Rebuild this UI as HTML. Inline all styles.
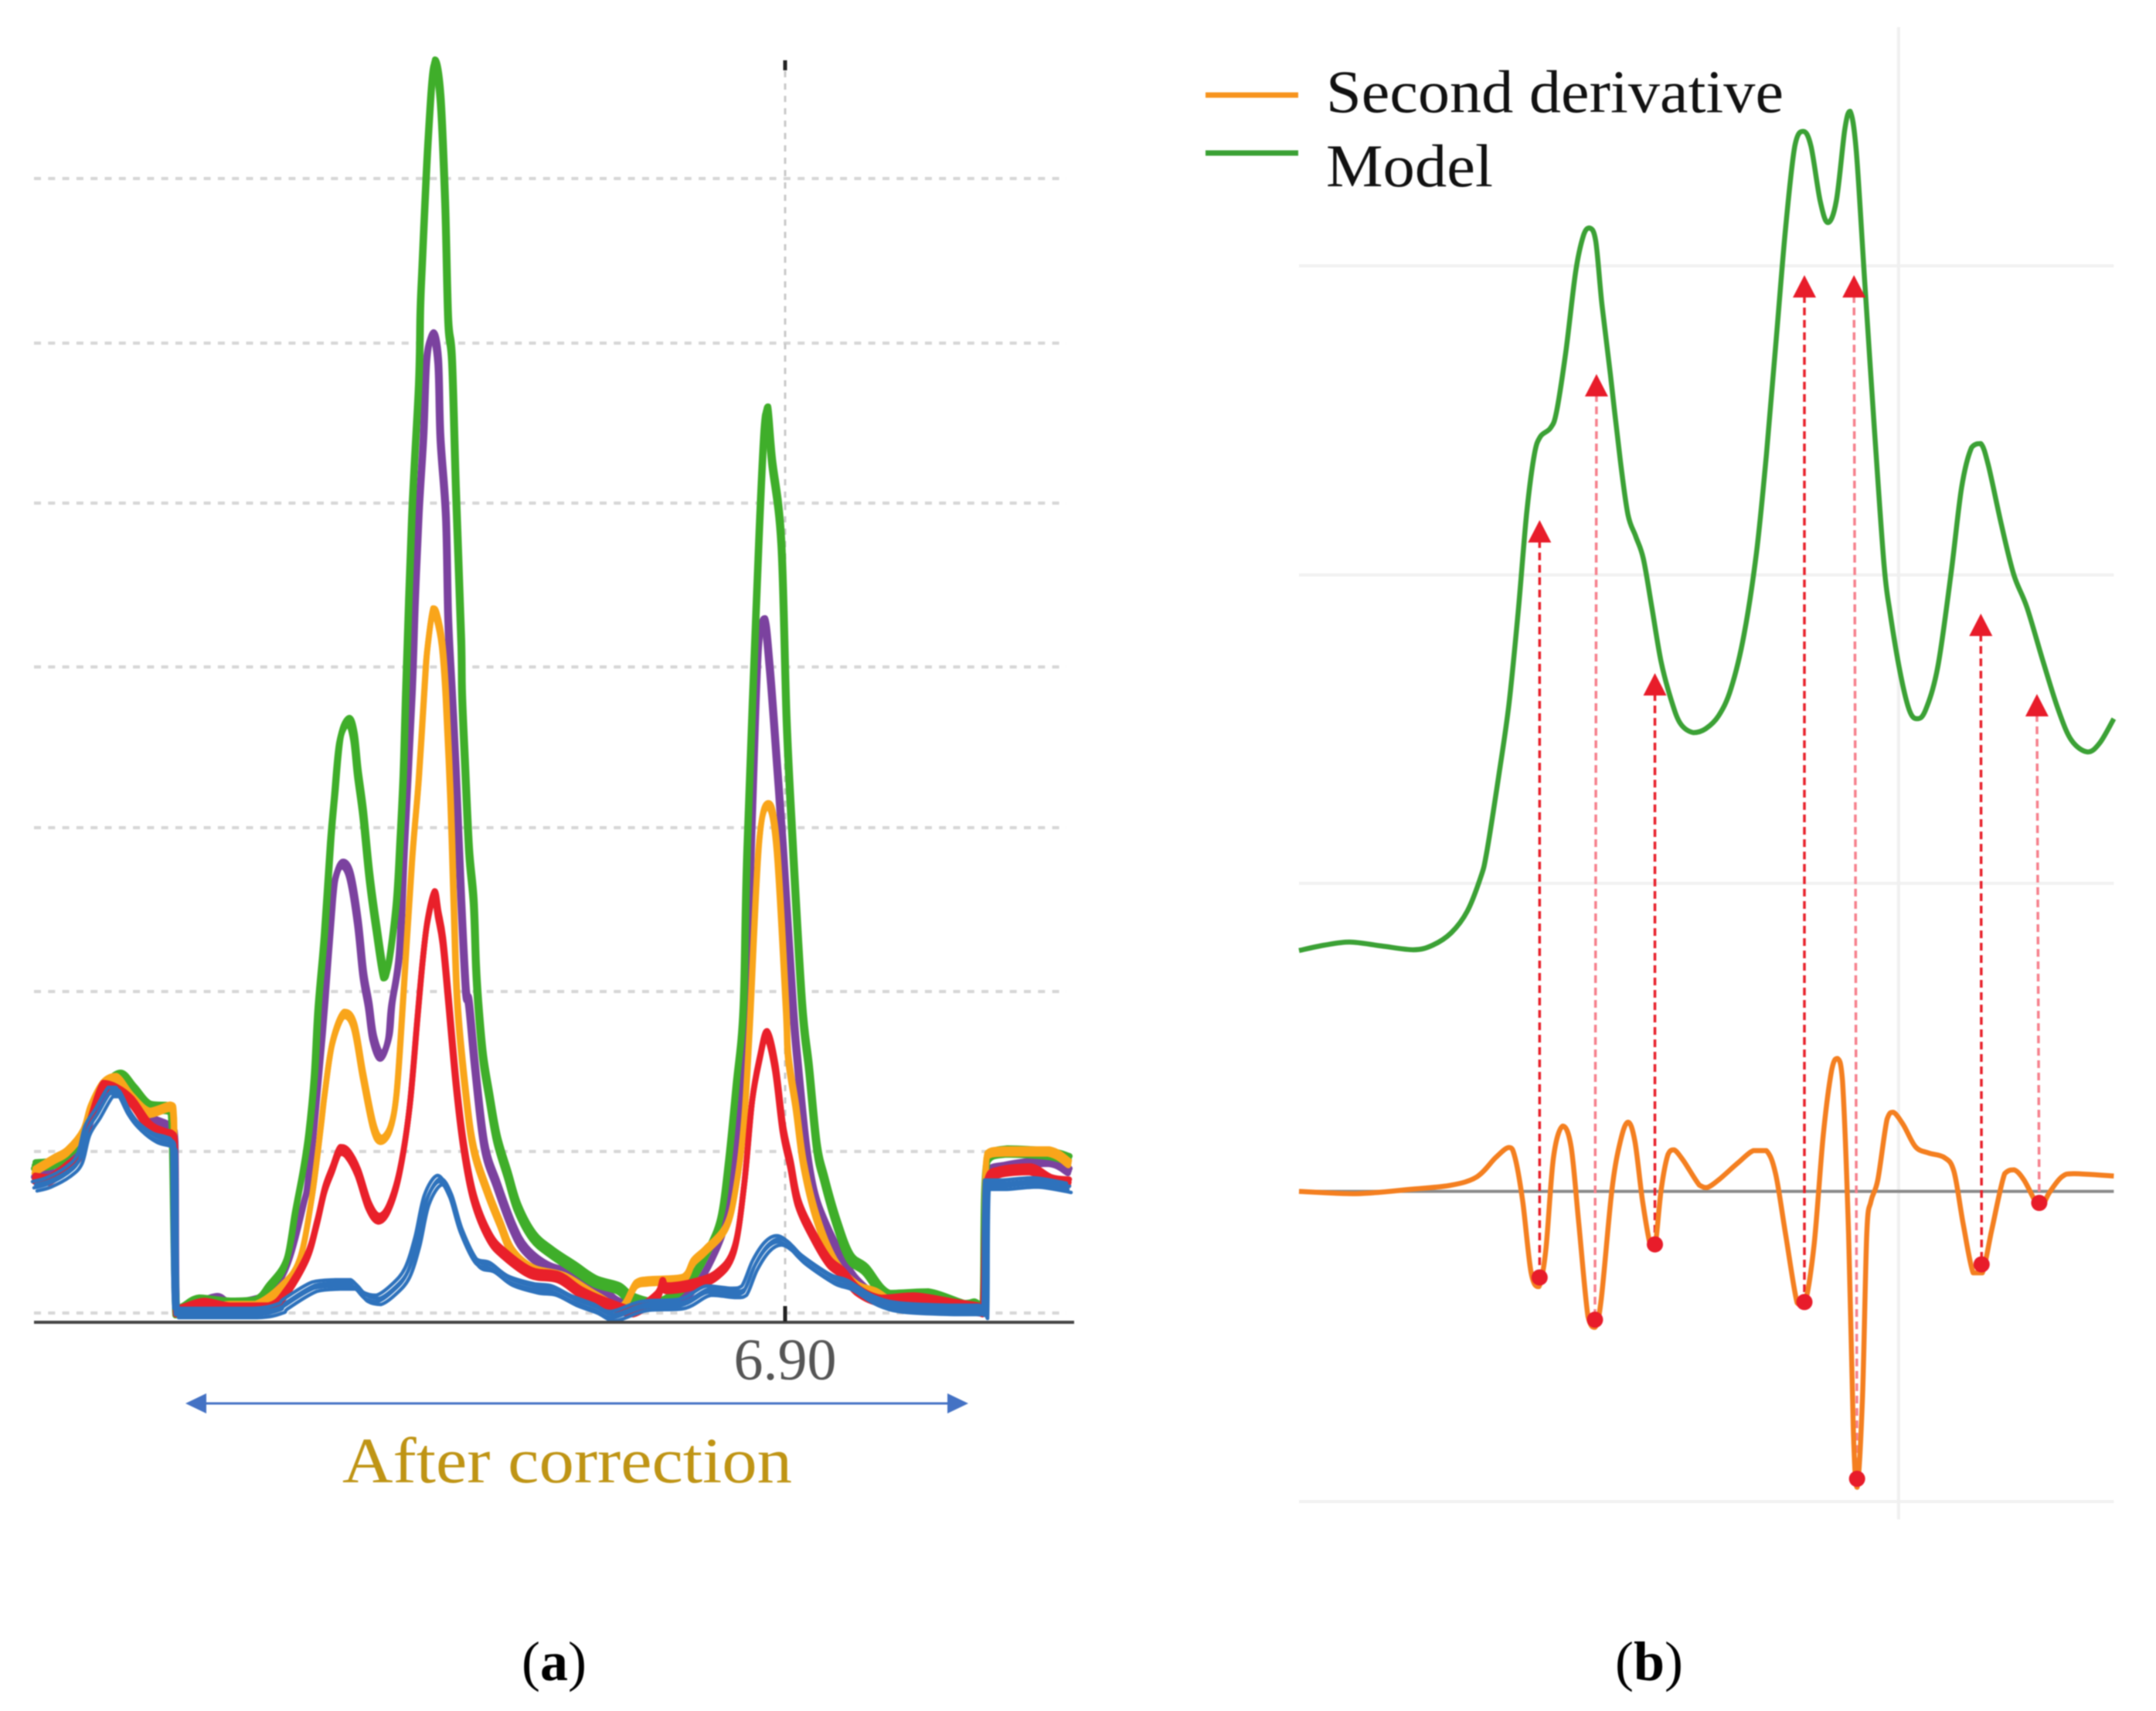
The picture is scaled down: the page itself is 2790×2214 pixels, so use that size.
<!DOCTYPE html>
<html lang="en">
<head>
<meta charset="utf-8">
<title>Spectra after correction and second derivative peak picking</title>
<style>
html,body{margin:0;padding:0;background:#fff;}
svg{display:block;filter:blur(0.7px);}
text{font-family:"Liberation Serif",serif;}
</style>
</head>
<body>
<svg id="fig" xmlns="http://www.w3.org/2000/svg" width="2790" height="2214" viewBox="0 0 2790 2214">
  <rect x="0" y="0" width="2790" height="2214" fill="#ffffff"/>
  <g id="panelA">
    <g id="gridA"></g>
    <g id="seriesA"></g>
    <g id="axisA"></g>
    <g>
      <line x1="255" y1="1816" x2="1238" y2="1816" stroke="#4472c4" stroke-width="3"/>
      <polygon points="240,1816 267,1803 267,1829" fill="#4472c4"/>
      <polygon points="1253,1816 1226,1803 1226,1829" fill="#4472c4"/>
    </g>
    <text x="443" y="1918" font-size="84" fill="#bf9414" textLength="582" lengthAdjust="spacingAndGlyphs">After correction</text>
    <text x="717" y="2174" font-size="72" fill="#000" text-anchor="middle">(<tspan font-weight="bold">a</tspan>)</text>
  </g>
  <g id="panelB">
    <g id="gridB"></g>
    <g id="seriesB"></g>
    <g>
      <g>
        <line x1="1560" y1="123" x2="1680" y2="123" stroke="#f7941e" stroke-width="7"/>
        <text x="1716" y="145" font-size="78" fill="#111" textLength="592" lengthAdjust="spacingAndGlyphs">Second derivative</text>
      </g>
      <g>
        <line x1="1560" y1="198" x2="1680" y2="198" stroke="#3ba135" stroke-width="7"/>
        <text x="1716" y="241" font-size="78" fill="#111" textLength="216" lengthAdjust="spacingAndGlyphs">Model</text>
      </g>
    </g>
    <text x="2134" y="2174" font-size="72" fill="#000" text-anchor="middle">(<tspan font-weight="bold">b</tspan>)</text>
  </g>
</svg>
<script>
// ---------- Panel A data (channel, intensity a.u.) ----------
const gridLevelsA = [11,220,427,639,847,1059,1266,1479];
const tickChannelA = [972];
const tickLabelsA = ["6.90"];

const greenChannels = [1,26,43,63,73,89,111,129,149,176,179,184,193,213,253,286,303,326,339,349,356,363,368,376,384,389,396,407,414,419,426,434,443,453,459,469,474,478,481,489,498,500,502,510,518,526,532,536,541,546,553,554,558,563,569,572,575,581,589,599,613,626,646,669,699,726,756,773,806,846,873,889,899,909,918,923,938,945,949,955,967,974,982,994,1003,1013,1023,1039,1056,1076,1106,1156,1203,1216,1228,1233,1259,1313,1339];
const greenIntensity = [202,205,217,237,267,300,318,300,278,275,260,12,17,27,23,25,43,77,147,200,247,320,410,503,623,680,753,777,757,710,657,577,510,448,463,543,627,710,810,1043,1217,1310,1359,1528,1629,1584,1450,1296,1243,1077,877,810,717,610,543,460,410,343,293,237,190,147,110,90,70,52,43,30,22,50,93,137,210,310,410,616,1009,1156,1180,1114,1009,777,616,410,327,227,183,127,83,67,33,35,20,22,15,207,220,217,210];

const purpleChannels = [1,26,43,63,73,89,106,126,149,176,182,184,206,236,253,286,306,329,349,356,369,376,386,391,399,409,419,426,433,439,449,459,463,473,479,489,493,498,504,508,516,523,526,533,536,541,546,553,559,563,571,583,599,619,636,666,703,733,759,806,849,883,899,913,919,929,937,945,952,961,969,982,989,999,1009,1023,1046,1066,1099,1156,1203,1228,1233,1256,1313,1339];
const purpleIntensity = [190,190,205,222,257,290,307,285,263,250,230,12,20,30,22,27,37,77,153,190,327,410,543,577,592,577,517,450,410,367,343,367,410,477,610,810,927,1043,1143,1243,1277,1243,1143,1043,910,810,710,543,427,410,327,227,177,123,93,70,60,43,23,20,37,93,147,260,343,644,868,907,847,728,616,410,327,227,167,127,80,50,27,20,17,13,190,200,207,195];

const orangeChannels = [1,26,43,63,73,89,106,126,149,176,181,184,253,286,319,343,359,371,376,386,401,414,426,439,449,461,469,476,489,498,506,509,516,521,528,533,539,543,548,559,569,586,603,619,646,686,726,759,779,796,839,853,869,896,909,919,926,938,950,961,973,976,986,996,1013,1036,1063,1089,1123,1203,1228,1233,1256,1313,1339];
const orangeIntensity = [195,210,220,245,277,307,315,290,270,278,260,13,20,20,43,77,157,250,293,360,398,383,317,253,235,250,293,390,593,703,830,870,920,913,877,810,677,550,410,293,223,170,127,90,67,57,33,17,48,52,55,77,92,123,177,260,377,616,668,616,410,343,277,203,133,77,47,37,20,18,13,215,220,220,205];

const redChannels = [1,19,43,59,71,89,106,126,149,168,178,182,184,219,253,303,326,353,366,376,386,396,406,419,433,446,459,473,486,496,503,509,518,523,529,536,546,556,569,589,609,643,679,709,749,776,806,813,819,849,883,906,919,929,939,948,959,969,979,989,1009,1029,1046,1066,1096,1139,1189,1221,1228,1233,1249,1289,1316,1339];
const redIntensity = [185,183,200,215,255,305,300,285,253,243,240,230,13,23,17,17,37,83,127,170,197,222,217,193,150,133,147,193,277,390,467,517,553,527,493,420,310,227,160,110,87,63,57,37,20,13,33,50,43,47,60,93,177,283,340,372,330,250,203,153,110,77,63,40,27,30,22,17,13,180,193,197,183,180];

const blueChannels = [1,19,43,59,69,83,99,109,123,136,156,173,181,184,286,319,326,363,393,413,429,446,466,483,496,508,525,539,553,573,593,616,649,673,699,726,749,789,839,873,906,919,933,949,964,979,996,1033,1056,1089,1123,1189,1226,1231,1233,1256,1296,1339];
const blueIntensity = [175,180,193,210,247,270,297,297,270,253,238,233,227,11,11,17,23,45,48,48,32,28,42,63,103,157,183,163,117,77,70,53,43,40,27,17,7,20,23,40,37,40,73,97,105,97,80,55,47,27,18,15,15,10,177,177,180,173];

// Spread of the replicate traces drawn for each sample group
const greenReplicates = [-4,0,4];
const purpleReplicates = [-3,0,3];
const orangeReplicates = [-3,0,3];
const redReplicates = [-4,0,4];
const blueReplicates = [-6,-2,2,6];
const greenShift = [-1,0,1];
const purpleShift = [-1,0,1];
const orangeShift = [-0.5,0,0.5];
const redShift = [-0.5,0,0.5];
const blueShift = [3,-1,1,-3];

// ---------- Panel B data (channel, signal a.u.) ----------
const gridLevelsB = [-399,401,800,1200];
const gridChannelB = [780];
const zeroLevelB = [0];

const modelChannels = [0,33,66,107,149,174,198,219,236,244,260,273,285,296,306,314,327,335,347,360,370,378,386,394,405,418,428,438,448,459,471,484,496,513,529,546,562,579,595,608,620,633,645,656,666,678,688,699,710,717,725,736,748.5,761,769,782,794,804,815,831,848,862,875,887,897,914,930,947,968,988,1005,1026,1042,1060];
const modelSignal = [314,321,325,320,315,321,337,365,408,440,541,632,751,878,955,979,990,1011,1088,1193,1239,1249,1232,1151,1060,948,878,850,821,758,688,639,608,596,601,618,653,723,828,955,1095,1249,1355,1374,1355,1284,1256,1284,1376,1400,1348,1179,990,814,751,674,625,614,625,681,800,913,965,970,941,864,800,758,688,625,586,571,583,614];

const derivChannels = [0,74,149,198,231.5,256,273,281,291,302,312,321,331,343,354,364,376,385,393,407,418,428,437,447,457,463,471,480,488,500,521,531,546,571,591,608,620,633,648,657.5,670,682,693,700.5,707,715,721,726,733,738.6,744,753,765,773,786,802,819,839.5,852,864,877,889,901.5,918,930.5,943,958,966,976,992.5,1009,1060];
const derivSignal = [0,-3,3,8,19,44,57,44,-13,-106,-124,-77,44,85,58,-42,-163,-177,-142,1,65,90,65,-13,-70,-74,1,48,54,40,8,5,15,37,53,53,23,-56,-145,-149,-70,73,158,173,144,-56,-306,-385,-270,-56,-13,15,94,103,87,58,50,44,26,-42,-106,-106,-49,23,28,15,-13,-20,-2,19,23,20];

const peakTopChannels = [313,387,463,657.5,722,887,960];
const peakTopModel = [871,1060,673,1188,1188,750,646];
const peakBottomChannels = [313,385,463,657.5,726,888,963];
const peakBottomSignal = [-112,-167,-69,-144,-374,-95,-15];
const peakStrength = ["strong","faint","strong","strong","faint","strong","faint"];

// ---------- Axis functions ----------
function linear(d0,d1,r0,r1){ return function(v){ return r0+(v-d0)*(r1-r0)/(d1-d0); }; }
const xA = linear(0,1346,44,1390);
const yA = linear(0,1665,1710,45);
const xB = linear(0,1060,1681,2735.4);
const yB = linear(-404,1200,1948,344);
const yD = linear(-400,400,1939.4,1143.8);

const NS = "http://www.w3.org/2000/svg";
function mk(tag,parent,attrs){
  const el = document.createElementNS(NS,tag);
  for(const k in attrs){ el.setAttribute(k,attrs[k]); }
  parent.appendChild(el);
  return el;
}
function clamp(v,a,b){ const lo=Math.min(a,b), hi=Math.max(a,b); return Math.max(lo,Math.min(hi,v)); }
function splinePath(xs,ys,fx,fy){
  const px = xs.map(fx), py = ys.map(fy);
  let d = "M"+px[0].toFixed(1)+" "+py[0].toFixed(1);
  for(let i=0;i<px.length-1;i++){
    const a = Math.max(i-1,0), b = Math.min(i+2,px.length-1);
    const c1x = clamp(px[i]+(px[i+1]-px[a])/6,px[i],px[i+1]);
    const c1y = clamp(py[i]+(py[i+1]-py[a])/6,py[i],py[i+1]);
    const c2x = clamp(px[i+1]-(px[b]-px[i])/6,px[i],px[i+1]);
    const c2y = clamp(py[i+1]-(py[b]-py[i])/6,py[i],py[i+1]);
    d += "C"+c1x.toFixed(1)+" "+c1y.toFixed(1)+" "+c2x.toFixed(1)+" "+c2y.toFixed(1)+" "+px[i+1].toFixed(1)+" "+py[i+1].toFixed(1);
  }
  return d;
}

// ---------- Panel A ----------
const gridA = document.getElementById("gridA");
gridLevelsA.forEach(function(v){
  const ln = mk("line",gridA,{x1:44,x2:1380,y1:yA(v),y2:yA(v),stroke:"#d6d6d6","stroke-width":4,"stroke-dasharray":"9 9.3"});
  
  
});
tickChannelA.forEach(function(c){
  const ln = mk("line",gridA,{x1:xA(c),x2:xA(c),y1:92,y2:1695,stroke:"#c9c9c9","stroke-width":3,"stroke-dasharray":"8 8"});
  
  
  const top = mk("line",gridA,{x1:xA(c),x2:xA(c),y1:78,y2:91,stroke:"#222","stroke-width":5});
  
  
});

const seriesA = document.getElementById("seriesA");
const groupsA = [
  ["purple",purpleChannels,purpleIntensity,purpleReplicates,purpleShift,"#7b429f",8],
  ["green",greenChannels,greenIntensity,greenReplicates,greenShift,"#3fae2a",8],
  ["orange",orangeChannels,orangeIntensity,orangeReplicates,orangeShift,"#f9a51a",7.5],
  ["red",redChannels,redIntensity,redReplicates,redShift,"#e9202a",7.5],
  ["blue",blueChannels,blueIntensity,blueReplicates,blueShift,"#2e72bc",4.5]
];
groupsA.forEach(function(g){
  const grp = mk("g",seriesA,{});
  
  
  g[3].forEach(function(dv,k){
    const dc = g[4][k];
    const d = splinePath(g[1],g[2],function(c){ return xA(c+dc); },function(v){ return yA(v+dv); });
    const p = mk("path",grp,{d:d,fill:"none",stroke:g[5],"stroke-width":g[6],"stroke-linejoin":"round","stroke-linecap":"round"});
    
    
  });
});

const axisA = document.getElementById("axisA");
const axLine = mk("line",axisA,{x1:44,x2:1390,y1:1711,y2:1711,stroke:"#444","stroke-width":4});


tickChannelA.forEach(function(c,i){
  const t = mk("line",axisA,{x1:xA(c),x2:xA(c),y1:1690,y2:1710,stroke:"#222","stroke-width":5});
  
  
  const lab = mk("text",axisA,{x:xA(c),y:1785,"font-size":76,fill:"#555","text-anchor":"middle"});
  
  
  lab.textContent = tickLabelsA[i];
});

// ---------- Panel B ----------
const gridB = document.getElementById("gridB");
gridLevelsB.forEach(function(v){
  const ln = mk("line",gridB,{x1:1681,x2:2735.4,y1:yB(v),y2:yB(v),stroke:"#f1f1f1","stroke-width":4});
  
  
});
gridChannelB.forEach(function(c){
  const ln = mk("line",gridB,{x1:xB(c),x2:xB(c),y1:35,y2:1966,stroke:"#f0f0f0","stroke-width":4});
  
  
});
zeroLevelB.forEach(function(v){
  const ln = mk("line",gridB,{x1:1681,x2:2735.4,y1:yD(v),y2:yD(v),stroke:"#8a8a8a","stroke-width":4});
  
  
});

const seriesB = document.getElementById("seriesB");
const modelPath = mk("path",seriesB,{d:splinePath(modelChannels,modelSignal,xB,yB),fill:"none",stroke:"#3ba135","stroke-width":6.5,"stroke-linejoin":"round"});



peakTopChannels.forEach(function(c,i){
  const col = peakStrength[i]==="strong" ? "#e8202a" : "#f6808c";
  const x1 = xB(c), y1 = yB(peakTopModel[i]);
  const x2 = xB(peakBottomChannels[i]), y2 = yD(peakBottomSignal[i]);
  const ln = mk("line",seriesB,{x1:x1,y1:y1+26,x2:x2,y2:y2,stroke:col,"stroke-width":3.5,"stroke-dasharray":"10 6"});
  
  
});

const derivPath = mk("path",seriesB,{d:splinePath(derivChannels,derivSignal,xB,yD),fill:"none",stroke:"#f47f20","stroke-width":6.5,"stroke-linejoin":"round"});



peakTopChannels.forEach(function(c,i){
  const x1 = xB(c), y1 = yB(peakTopModel[i]);
  const tri = mk("polygon",seriesB,{points:(x1)+","+(y1)+" "+(x1-15)+","+(y1+29)+" "+(x1+15)+","+(y1+29),fill:"#e81c2a"});
  
  
  const dot = mk("circle",seriesB,{cx:xB(peakBottomChannels[i]),cy:yD(peakBottomSignal[i]),r:10.5,fill:"#e81c2a"});
  
  
});
</script>
</body>
</html>
